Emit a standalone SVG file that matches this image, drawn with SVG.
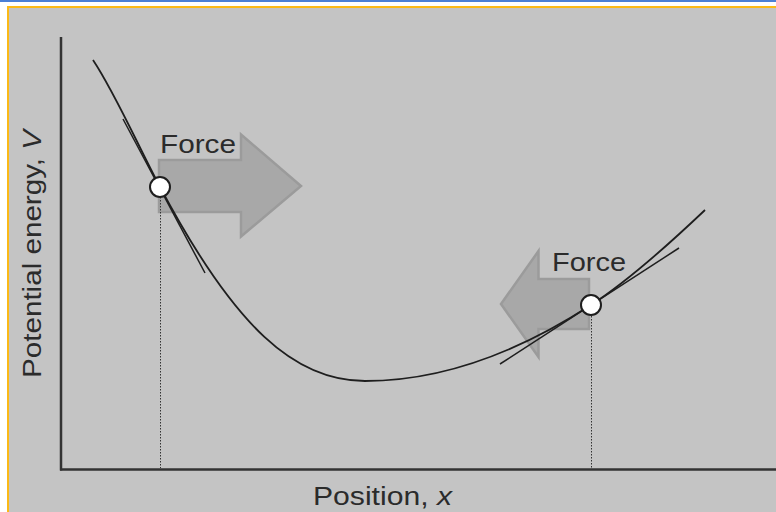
<svg xmlns="http://www.w3.org/2000/svg" width="776" height="512" viewBox="0 0 776 512">
<style>
.lbl{font-family:"Liberation Sans",Arial,sans-serif;fill:#2b2b2b;}
.ax{stroke:#333;stroke-width:2.5;fill:none;}
.crv{stroke:#1e1e1e;stroke-width:1.8;fill:none;}
.tan{stroke:#1e1e1e;stroke-width:1.5;fill:none;}
.dot{stroke:#333;stroke-width:1;stroke-dasharray:1.5 1.5;fill:none;}
.arr{fill:#a8a8a8;stroke:#9b9b9b;stroke-width:2.5;stroke-linejoin:miter;}
.pt{fill:#fff;stroke:#1e1e1e;stroke-width:2;}
</style>
<rect x="0" y="0" width="776" height="512" fill="#fff"/>
<rect x="0" y="0" width="776" height="2" fill="#4a7fd6"/>
<rect x="7" y="6" width="769" height="506" fill="#fbb917"/>
<rect x="9" y="8" width="767" height="504" fill="#c4c4c4"/>

<g id="arrows">
<path id="arrow-right" class="arr" d="M159,160 H241 V134.5 L301,186 L241,236.5 V212 H159 Z"/>
<path id="arrow-left" class="arr" d="M589,279 H538.5 V251 L501,304 L538.5,357 V329 H589 Z"/>
</g>

<g id="axes">
<line class="ax" x1="61" y1="37" x2="61" y2="470.5"/>
<line class="ax" x1="60" y1="469.5" x2="776" y2="469.5"/>
</g>

<g id="guides">
<line class="dot" x1="160.5" y1="197" x2="160.5" y2="468"/>
<line class="dot" x1="591.5" y1="316" x2="591.5" y2="468"/>
</g>

<g id="curve">
<path class="crv" d="M93,60 C115.3,93.5 137.7,145 160,187 C235,328 295,381 365,381 C440.3,381 515.7,353.8 591,305 C629,280.4 667,246.1 705,210"/>
</g>

<g id="tangents">
<line class="tan" x1="123" y1="119" x2="205" y2="273"/>
<line class="tan" x1="500" y1="364" x2="679" y2="248"/>
</g>

<g id="points">
<circle class="pt" cx="160" cy="187" r="10"/>
<circle class="pt" cx="591" cy="305" r="10"/>
</g>

<g id="labels">
<text class="lbl" x="160" y="153" font-size="26" textLength="76" lengthAdjust="spacingAndGlyphs">Force</text>
<text class="lbl" x="552" y="271" font-size="26" textLength="74" lengthAdjust="spacingAndGlyphs">Force</text>
<text class="lbl" x="313" y="505" font-size="26" textLength="139" lengthAdjust="spacingAndGlyphs">Position, <tspan font-style="italic">x</tspan></text>
<text class="lbl" transform="translate(41,378) rotate(-90)" x="0" y="0" font-size="26" textLength="248" lengthAdjust="spacingAndGlyphs">Potential energy, <tspan font-style="italic">V</tspan></text>
</g>
</svg>
